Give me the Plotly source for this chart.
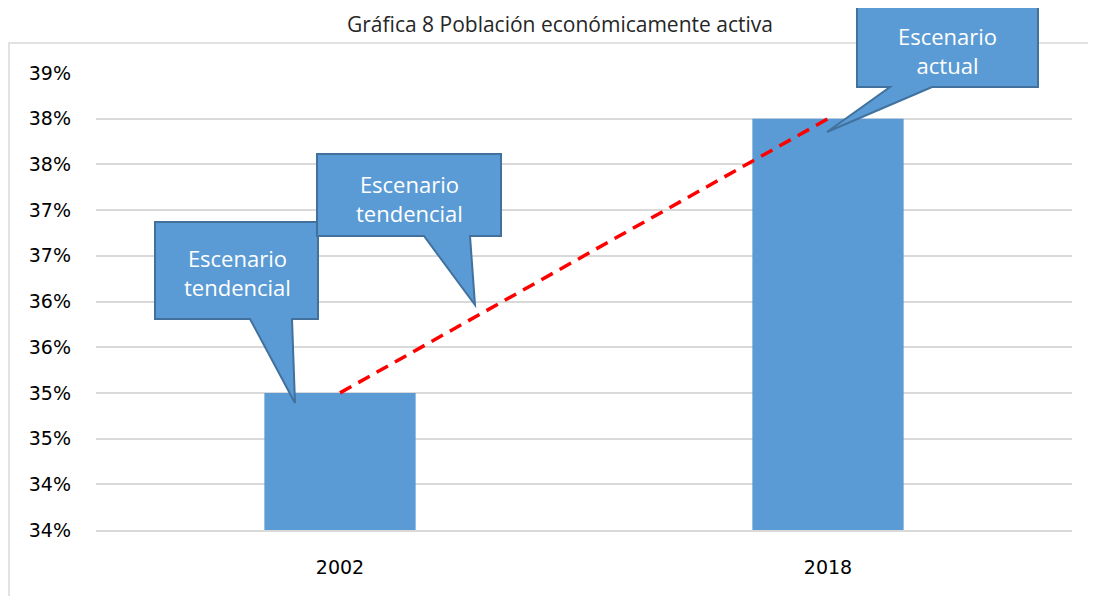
import plotly.graph_objects as go

# ---- data ----
years = ["2002", "2018"]
values = [35.0, 38.0]          # percent
tick_vals = [33.5, 34.0, 34.5, 35.0, 35.5, 36.0, 36.5, 37.0, 37.5, 38.0, 38.5]
tick_text = ["34%", "34%", "35%", "35%", "36%", "36%", "37%", "37%", "38%", "38%", "39%"]
title_text = "Gráfica 8 Población económicamente activa"
callout_texts = ["Escenario<br>tendencial", "Escenario<br>tendencial", "Escenario<br>actual"]

# page has an 8px body margin; compensate in margins
OFF = 8
W, H = 1096, 596
L, T = 96 - OFF, 73 - OFF
PW, PH = 976, 457
R = W - L - PW
B = H - T - PH


def px(x):  # window pixel -> paper
    return (x - 96) / PW


def py(y):
    return (530 - y) / PH


def callout(x0, y0, x1, y1, ta, tb, tip):
    pts = [(x0, y0), (x1, y0), (x1, y1), (tb, y1), tip, (ta, y1), (x0, y1)]
    d = "M " + " L ".join(f"{px(a):.5f},{py(b):.5f}" for a, b in pts) + " Z"
    return dict(type="path", path=d, xref="paper", yref="paper",
                fillcolor="#5B9BD5", line=dict(color="#41719C", width=2), layer="above")


fig = go.Figure()
fig.add_trace(go.Bar(x=years, y=values, marker=dict(color="#5B9BD5", line=dict(width=0)),
                     width=0.31, showlegend=False, hoverinfo="skip"))
fig.add_trace(go.Scatter(x=years, y=values, mode="lines",
                         line=dict(color="#FF0000", width=3.5, dash="13px,8px"),
                         showlegend=False, hoverinfo="skip"))

shapes = [
    dict(type="rect", xref="paper", yref="paper", x0=px(9), x1=px(1110), y0=py(43), y1=py(620),
         line=dict(color="#D9D9D9", width=1.5), fillcolor="rgba(0,0,0,0)", layer="below"),
    callout(155, 222, 318, 319, 250, 292, (295, 403)),
    callout(317, 154, 501, 236, 424, 470, (475, 305)),
    callout(857, 3, 1038, 87, 890, 932, (827, 132)),
]

annotations = [
    dict(text=title_text, xref="paper", yref="paper", x=px(560), y=py(24),
         showarrow=False, xanchor="center", yanchor="middle",
         font=dict(family="Open Sans", size=21, color="#262626")),
    dict(text=callout_texts[0], xref="paper", yref="paper", x=px(237), y=py(272),
         showarrow=False, xanchor="center", yanchor="middle",
         font=dict(family="Open Sans", size=22, color="white")),
    dict(text=callout_texts[1], xref="paper", yref="paper", x=px(409), y=py(199),
         showarrow=False, xanchor="center", yanchor="middle",
         font=dict(family="Open Sans", size=22, color="white")),
    dict(text=callout_texts[2], xref="paper", yref="paper", x=px(947), y=py(50),
         showarrow=False, xanchor="center", yanchor="middle",
         font=dict(family="Open Sans", size=22, color="white")),
]

fig.update_layout(
    width=W, height=H,
    margin=dict(l=L, r=R, t=T, b=B, pad=0),
    paper_bgcolor="white", plot_bgcolor="white",
    shapes=shapes, annotations=annotations,
    font=dict(family="DejaVu Sans", size=19, color="#000000"),
    xaxis=dict(type="category", showgrid=False, showline=True, linecolor="#D9D9D9",
               linewidth=1.5, ticks="", tickfont=dict(family="DejaVu Sans", size=19),
               ticklabelstandoff=19),
    yaxis=dict(range=[33.5, 38.5], tickvals=tick_vals, ticktext=tick_text,
               showgrid=True, gridcolor="#D9D9D9", gridwidth=1.5, zeroline=False,
               showline=False, ticks="", ticklabelstandoff=24,
               tickfont=dict(family="DejaVu Sans", size=19)),
)

fig.write_html("out.html")
